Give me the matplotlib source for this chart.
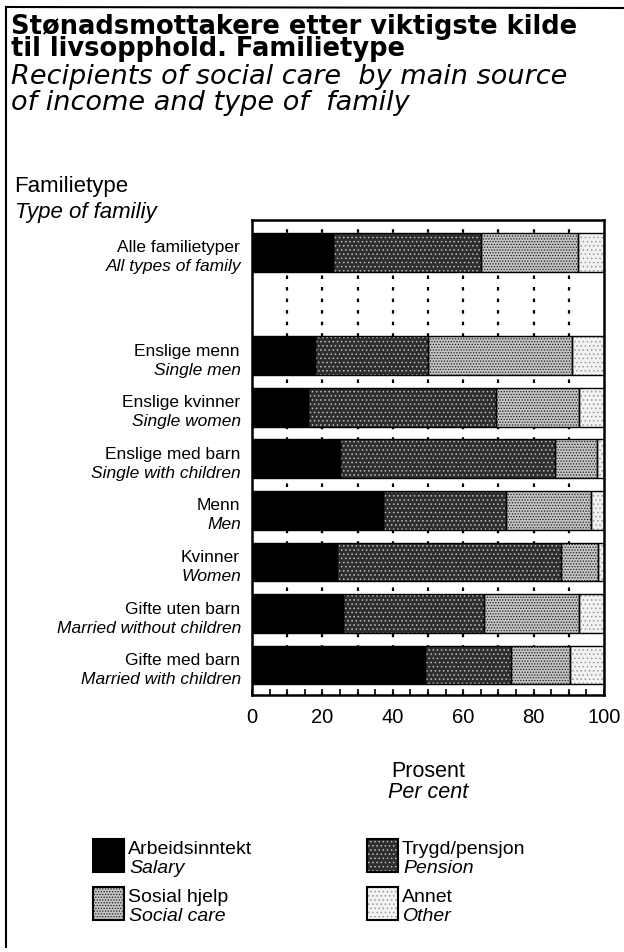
import numpy as np
import matplotlib.pyplot as plt
from matplotlib.patches import Rectangle
from matplotlib.lines import Line2D
from matplotlib.ticker import MultipleLocator

categories = ["Alle familietyper", "Enslige menn", "Enslige kvinner", "Enslige med barn",
              "Menn", "Kvinner", "Gifte uten barn", "Gifte med barn"]
categories_en = ["All types of family", "Single men", "Single women", "Single with children",
                 "Men", "Women", "Married without children", "Married with children"]

# prosent, lest av figuren
arbeid = [23.0, 17.8, 15.9, 24.9, 37.3, 24.2, 25.8, 49.1]
trygd = [42.0, 32.3, 53.4, 61.3, 34.9, 63.5, 40.0, 24.5]
sosial = [27.6, 40.9, 23.6, 11.7, 24.2, 10.6, 27.1, 16.6]
annet = [7.4, 9.0, 7.1, 2.1, 3.6, 1.7, 7.1, 9.8]

series_no = ["Arbeidsinntekt", "Trygd/pensjon", "Sosial hjelp", "Annet"]
series_en = ["Salary", "Pension", "Social care", "Other"]
xticks = [0, 20, 40, 60, 80, 100]

# face, hatch, hatch colour
styles = [("black", None, "black"),
          ("#2e2e2e", "....", "#bdbdbd"),
          ("#c4c4c4", "......", "#1e1e1e"),
          ("#f2f2f2", "....", "#9a9a9a")]

plt.rcParams['font.family'] = ['Liberation Sans', 'DejaVu Sans']
plt.rcParams['hatch.linewidth'] = 0.6

W, H = 624, 953
fig = plt.figure(figsize=(W / 100, H / 100), dpi=100)

bg = fig.add_axes([0, 0, 1, 1])
bg.set_xlim(0, W)
bg.set_ylim(H, 0)
bg.axis('off')

# ramme
bg.add_line(Line2D([6, 6], [8, 948], color='black', lw=1.5))
bg.add_line(Line2D([6, W], [8, 9], color='black', lw=1.5))

bg.text(11, 14, "Stønadsmottakere etter viktigste kilde\ntil livsopphold. Familietype",
        fontsize=18.5, fontweight='bold', family='DejaVu Sans', va='top',
        linespacing=0.78)
bg.text(11, 64, "Recipients of social care  by main source\nof income and type of  family",
        fontsize=19.5, style='italic', family='DejaVu Sans', va='top',
        linespacing=0.98)

bg.text(14, 192, "Familietype", fontsize=16, va='baseline')
bg.text(15, 218, "Type of familiy", fontsize=16, style='italic', va='baseline')

bg.text(428, 777, "Prosent", fontsize=15.5, ha='center', va='baseline')
bg.text(428, 798, "Per cent", fontsize=15.5, style='italic', ha='center', va='baseline')

# tegnforklaring
leg_x = [93, 367]
leg_y = [840, 888]
for i, (no, en) in enumerate(zip(series_no, series_en)):
    fc, hatch, hc = styles[i]
    x0 = leg_x[i % 2]
    y0 = leg_y[i // 2]
    bg.add_patch(Rectangle((x0, y0), 31, 33, facecolor=fc, hatch=hatch,
                           edgecolor=hc, linewidth=0))
    bg.add_patch(Rectangle((x0, y0), 31, 33, fill=False, edgecolor='black', linewidth=1.5))
    bg.text(x0 + 35, y0 + 14, no, fontsize=14, va='baseline')
    bg.text(x0 + 36, y0 + 33, en, fontsize=14, style='italic', va='baseline')

ax = fig.add_axes([252 / W, 1 - 696 / H, 352 / W, 475 / H])

# tom rad etter "Alle familietyper"
ypos = np.r_[0, np.arange(2, len(categories) + 1)]

left = np.zeros(len(categories))
for vals, (fc, hatch, hc) in zip([arbeid, trygd, sosial, annet], styles):
    ax.barh(ypos, vals, left=left, height=0.75, color=fc, hatch=hatch,
            edgecolor=hc, linewidth=0, zorder=2)
    ax.barh(ypos, vals, left=left, height=0.75, fill=False,
            edgecolor='black', linewidth=1.0, zorder=3)
    left += np.array(vals)

for x in np.arange(10, 100, 10):
    ax.axvline(x, color='black', lw=1.6, ls=(0, (1.6, 3.6)), zorder=1)

ax.set_xlim(0, 100)
ax.set_ylim(8.58, -0.63)
ax.set_yticks([])
ax.set_xticks(xticks)
ax.set_xticklabels([str(t) for t in xticks], fontsize=14.5)
ax.xaxis.set_minor_locator(MultipleLocator(5))
ax.tick_params(axis='x', which='both', direction='in', length=4, width=1.2, pad=9)
for s in ax.spines.values():
    s.set_linewidth(1.8)

for y, no, en in zip(ypos, categories, categories_en):
    ax.annotate(no, xy=(0, y), xycoords=('axes fraction', 'data'), xytext=(-12, 1),
                textcoords='offset pixels', ha='right', va='baseline', fontsize=12.5)
    ax.annotate(en, xy=(0, y), xycoords=('axes fraction', 'data'), xytext=(-11, -18),
                textcoords='offset pixels', ha='right', va='baseline', fontsize=12.5,
                style='italic')

plt.savefig('out.png', dpi=100)
